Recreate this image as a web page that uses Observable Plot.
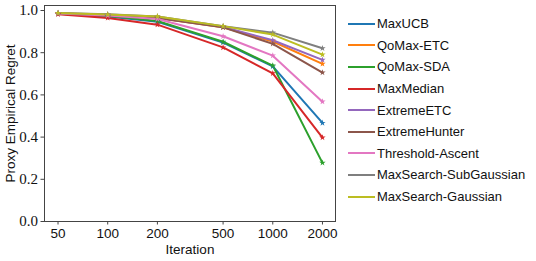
<!DOCTYPE html>
<html><head><meta charset="utf-8">
<script src="https://cdn.jsdelivr.net/npm/d3@7"></script>
<script src="https://cdn.jsdelivr.net/npm/@observablehq/plot@0.6"></script>
<style>
body{margin:0;background:#fff;}
#wrap{position:relative;width:536px;height:261px;}
#legend{position:absolute;left:348px;top:13px;font-family:"Liberation Sans",sans-serif;font-size:13px;color:#111;}
.row{height:21.6px;display:flex;align-items:center;white-space:nowrap;}
.sw{width:27px;height:2px;margin-right:2px;position:relative;}
</style></head>
<body><div id="wrap"><div id="chart"></div><div id="legend"></div></div>
<script>
const iterations = [50, 100, 200, 500, 1000, 2000];
const seriesNames = ["MaxUCB","QoMax-ETC","QoMax-SDA","MaxMedian","ExtremeETC","ExtremeHunter","Threshold-Ascent","MaxSearch-SubGaussian","MaxSearch-Gaussian"];
const colors = ["#1f77b4","#ff7f0e","#2ca02c","#d62728","#9467bd","#8c564b","#e377c2","#7f7f7f","#bcbd22"];
const maxUCB = [0.985, 0.972, 0.947, 0.848, 0.735, 0.467];
const qoMaxETC = [0.986, 0.978, 0.965, 0.921, 0.853, 0.747];
const qoMaxSDA = [0.985, 0.975, 0.950, 0.852, 0.739, 0.278];
const maxMedian = [0.982, 0.965, 0.933, 0.825, 0.702, 0.398];
const extremeETC = [0.987, 0.980, 0.966, 0.922, 0.859, 0.766];
const extremeHunter = [0.986, 0.979, 0.965, 0.920, 0.842, 0.706];
const thresholdAscent = [0.986, 0.976, 0.960, 0.878, 0.786, 0.568];
const maxSearchSubGaussian = [0.988, 0.982, 0.972, 0.926, 0.895, 0.821];
const maxSearchGaussian = [0.988, 0.981, 0.972, 0.926, 0.886, 0.791];
const yTicks = [0, 0.2, 0.4, 0.6, 0.8, 1.0];

const allValues = [maxUCB, qoMaxETC, qoMaxSDA, maxMedian, extremeETC, extremeHunter, thresholdAscent, maxSearchSubGaussian, maxSearchGaussian];
const data = [];
seriesNames.forEach((s, i) => iterations.forEach((it, j) => data.push({series: s, it, v: allValues[i][j]})));

const chart = Plot.plot({
  width: 536, height: 261,
  marginLeft: 44, marginRight: 201, marginTop: 5, marginBottom: 40,
  style: {background: "#fff", overflow: "visible"},
  x: {type: "log", domain: [41.4, 2399]},
  y: {domain: [0, 1.0237]},
  color: {domain: seriesNames, range: colors},
  marks: [
    Plot.frame({stroke: "#444", strokeWidth: 1}),
    Plot.axisX({ticks: iterations, tickFormat: d => String(d), tickSize: 3.5, tickPadding: 3, stroke: "#444",
      fontSize: 13.5, fontFamily: "Liberation Sans, sans-serif", fill: "#111",
      label: "Iteration", labelAnchor: "center", labelArrow: "none", labelOffset: 32}),
    Plot.axisY({ticks: yTicks, tickFormat: d => d.toFixed(1), tickSize: 3.5, tickPadding: 3, stroke: "#444",
      fontSize: 15, fontFamily: "Liberation Serif, serif", fill: "#111", label: null}),
    Plot.text(["Proxy Empirical Regret"], {frameAnchor: "left", textAnchor: "middle", dx: -34, rotate: -90, fontSize: 13.5,
      fontFamily: "Liberation Sans, sans-serif", fill: "#111"}),
    ...seriesNames.map(s => Plot.lineY(data.filter(d => d.series === s), {x: "it", y: "v", stroke: "series", strokeWidth: 2})),
    ...seriesNames.map(s => Plot.dot(data.filter(d => d.series === s), {x: "it", y: "v", fill: "series", symbol: "star", r: 2}))
  ]
});
document.getElementById("chart").appendChild(chart);

const leg = document.getElementById("legend");
seriesNames.forEach((s, i) => {
  const r = document.createElement("div"); r.className = "row";
  const sw = document.createElement("div"); sw.className = "sw"; sw.style.background = colors[i];
  const t = document.createElement("span"); t.textContent = s;
  r.appendChild(sw); r.appendChild(t); leg.appendChild(r);
});
</script></body></html>
